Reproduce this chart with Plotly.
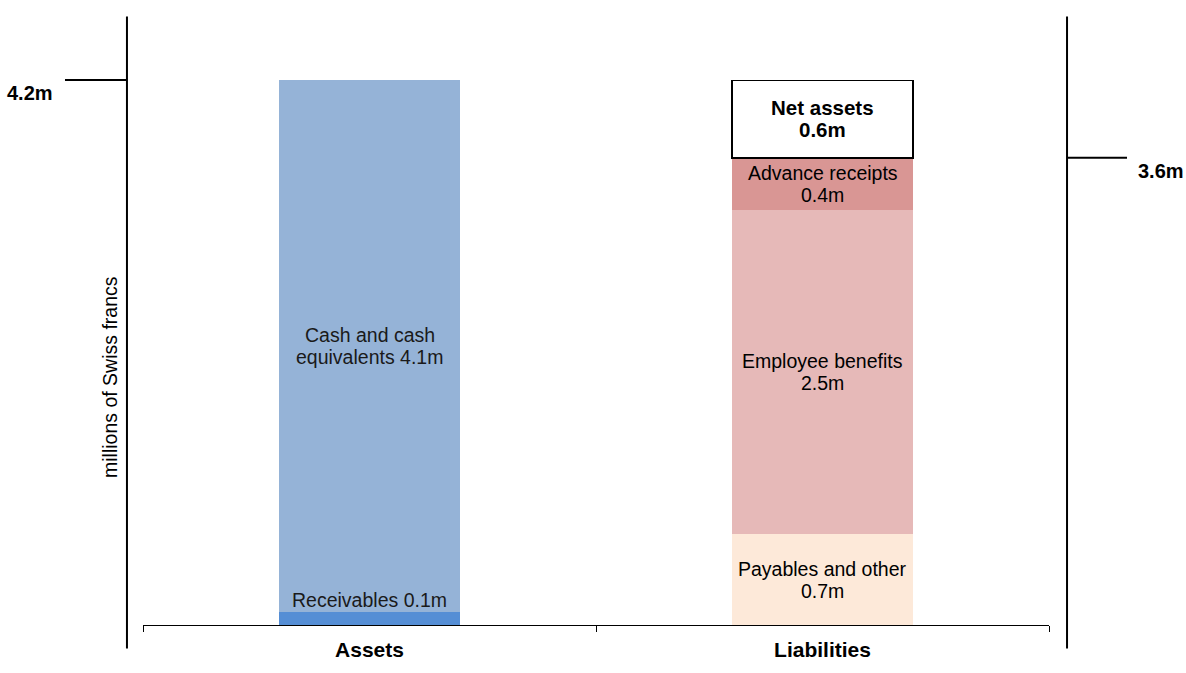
import plotly.graph_objects as go

# ---- data ----
categories = ["Assets", "Liabilities"]
asset_names = ["Receivables", "Cash and cash equivalents"]
asset_text = ["Receivables 0.1m", "Cash and cash<br>equivalents 4.1m"]
asset_values = [0.1, 4.1]
asset_colors = ["#558ED5", "#95B3D7"]

liab_names = ["Payables and other", "Employee benefits", "Advance receipts", "Net assets"]
liab_text = ["Payables and other<br>0.7m", "Employee benefits<br>2.5m", "Advance receipts<br>0.4m", "Net assets<br>0.6m"]
liab_values = [0.7, 2.5, 0.4, 0.6]
liab_colors = ["#FDE9D9", "#E6B9B8", "#D99694", "#FFFFFF"]

left_marker_value = 4.2   # total assets
right_marker_value = 3.6  # total liabilities
left_marker_text = "4.2m"
right_marker_text = "3.6m"
y_title = "millions of Swiss francs"

FONT = "Liberation Sans, Arial, sans-serif"
YMAX = 4.2
LABEL_SIZE = 19.5
LINE_GAP = 11  # half of line spacing, px


def add_label(anns, x, y, text, size, bold=False, color="black"):
    lines = text.split("<br>")
    n = len(lines)
    for k, ln in enumerate(lines):
        shift = ((n - 1) / 2 - k) * 2 * LINE_GAP
        anns.append(dict(x=x, y=y, xref="x", yref="y", text=("<b>%s</b>" % ln) if bold else ln,
                         showarrow=False, yshift=shift,
                         font=dict(size=size, color=color, family=FONT)))


fig = go.Figure()
for name, v, c in zip(asset_names, asset_values, asset_colors):
    fig.add_trace(go.Bar(x=[categories[0]], y=[v], name=name, marker=dict(color=c, line=dict(width=0)),
                         hoverinfo="skip"))
for name, v, c in zip(liab_names, liab_values, liab_colors):
    line = dict(width=1.5, color="black") if name == "Net assets" else dict(width=0)
    fig.add_trace(go.Bar(x=[categories[1]], y=[v], name=name, marker=dict(color=c, line=line),
                         hoverinfo="skip"))

annotations = []
# asset labels
cum = 0
for i, (t, v) in enumerate(zip(asset_text, asset_values)):
    if i == 0:
        annotations.append(dict(x=categories[0], y=cum + v, xref="x", yref="y", text=t, showarrow=False,
                                yanchor="bottom", yshift=-1,
                                font=dict(size=LABEL_SIZE, color="#1a1a1a", family=FONT)))
    else:
        add_label(annotations, categories[0], cum + v / 2, t, LABEL_SIZE, color="#1a1a1a")
    cum += v
cum = 0
for name, t, v in zip(liab_names, liab_text, liab_values):
    bold = name == "Net assets"
    add_label(annotations, categories[1], cum + v / 2, t, 20.5 if bold else LABEL_SIZE, bold=bold)
    cum += v

# marker labels
LX = -0.0177
RX = 1.0199
annotations.append(dict(x=-0.0861, y=left_marker_value / YMAX, xref="paper", yref="paper",
                        text="<b>" + left_marker_text + "</b>", showarrow=False, xanchor="right",
                        xshift=-10, font=dict(size=20, color="black", family=FONT)))
annotations.append(dict(x=1.0861, y=right_marker_value / YMAX, xref="paper", yref="paper",
                        text="<b>" + right_marker_text + "</b>", showarrow=False, xanchor="left",
                        xshift=9, font=dict(size=20, color="black", family=FONT)))
annotations.append(dict(x=-0.0508, y=0.455, xref="paper", yref="paper", text=y_title, showarrow=False,
                        textangle=-90, font=dict(size=19.5, color="black", family=FONT)))

shapes = [
    dict(type="line", xref="paper", yref="paper", x0=LX, x1=LX, y0=-0.043, y1=1.1165,
         line=dict(color="black", width=2)),
    dict(type="line", xref="paper", yref="paper", x0=RX, x1=RX, y0=-0.043, y1=1.1165,
         line=dict(color="black", width=2)),
    dict(type="line", xref="paper", yref="paper", x0=-0.0861, x1=LX, y0=left_marker_value / YMAX,
         y1=left_marker_value / YMAX, line=dict(color="black", width=2)),
    dict(type="line", xref="paper", yref="paper", x0=RX, x1=1.0861, y0=right_marker_value / YMAX,
         y1=right_marker_value / YMAX, line=dict(color="black", width=2)),
]

fig.update_layout(
    width=1186, height=673,
    margin=dict(l=143, r=137, t=80, b=35),
    barmode="stack", bargap=0.6,
    showlegend=False,
    plot_bgcolor="white", paper_bgcolor="white",
    font=dict(family=FONT, color="black"),
    annotations=annotations, shapes=shapes,
    xaxis=dict(type="category", range=[-0.5, 1.5], showline=True, linecolor="black", linewidth=1,
               ticks="outside", tickson="boundaries", ticklen=6, tickcolor="black", tickwidth=1,
               ticklabelstandoff=6,
               tickfont=dict(size=21, weight="bold", color="black", family=FONT), showgrid=False,
               zeroline=False, fixedrange=True),
    yaxis=dict(range=[0, YMAX], visible=False, showgrid=False, zeroline=False, fixedrange=True),
)

fig.write_html("out.html", config={"displayModeBar": False, "staticPlot": True},
               post_script="document.body.style.margin='0';document.body.style.overflow='hidden';")
